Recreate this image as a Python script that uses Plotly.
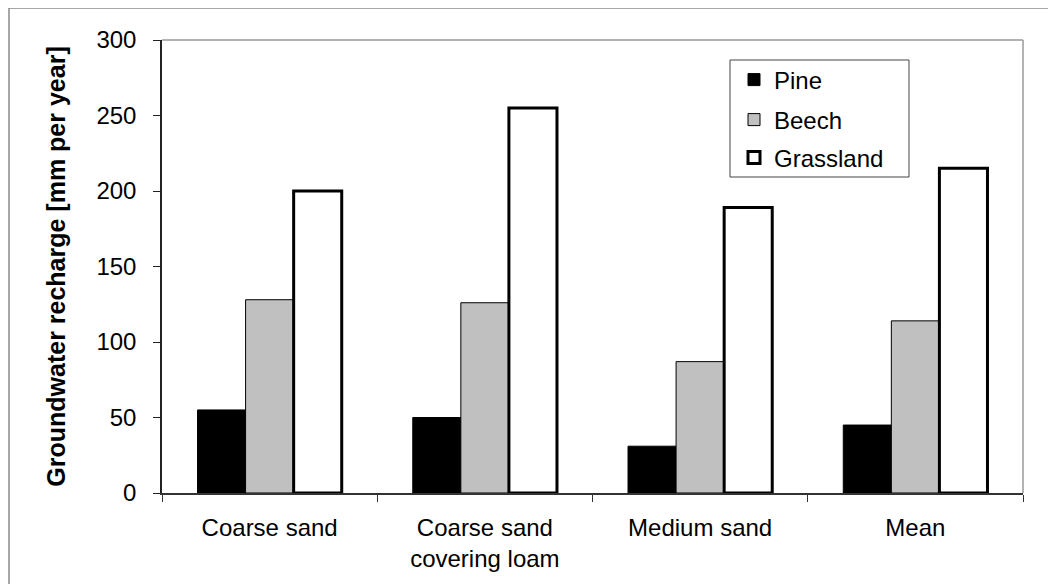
import plotly.graph_objects as go

categories = ["Coarse sand", "Coarse sand<br>covering loam", "Medium sand", "Mean"]
pine = [55, 50, 31, 45]
beech = [128, 126, 87, 114]
grassland = [200, 255, 189, 215]
y_ticks = [0, 50, 100, 150, 200, 250, 300]

FONT = "Arial, 'Liberation Sans', sans-serif"

OFF = 8  # page body margin
W, H = 1056 - OFF, 584 - OFF
L, R, T, B = 162 - OFF, 33, 40 - OFF, 91
pw, ph = W - L - R, H - T - B

def px(x):
    return (x - OFF - L) / pw

def py(y):
    return (H - B - (y - OFF)) / ph

fig = go.Figure()
fig.add_trace(go.Bar(name="Pine", x=categories, y=pine, legend="legend",
                     marker=dict(color="#000000", line=dict(color="#000000", width=1))))
fig.add_trace(go.Bar(name="Beech", x=categories, y=beech, legend="legend2",
                     marker=dict(color="#c0c0c0", line=dict(color="#000000", width=1))))
fig.add_trace(go.Bar(name="Grassland", x=categories, y=grassland, legend="legend3",
                     marker=dict(color="#ffffff", line=dict(color="#000000", width=3))))

shapes = [
    # outer chart border (top and left visible)
    dict(type="rect", xref="paper", yref="paper", x0=px(9), x1=px(1070), y0=py(600), y1=py(8),
         line=dict(color="#8a8a8a", width=1.5), fillcolor="rgba(0,0,0,0)", layer="below"),
    # plot area top and right
    dict(type="line", xref="paper", yref="paper", x0=0, x1=1, y0=1, y1=1,
         line=dict(color="#999999", width=1.5)),
    dict(type="line", xref="paper", yref="paper", x0=1, x1=1, y0=0, y1=1,
         line=dict(color="#999999", width=1.5)),
    # legend box
    dict(type="rect", xref="paper", yref="paper", x0=px(730), x1=px(909), y0=py(177), y1=py(60),
         line=dict(color="#444444", width=1), fillcolor="white", layer="below"),
]

def leg(yc):
    return dict(x=px(734), y=py(yc), xanchor="left", yanchor="middle",
                bgcolor="rgba(0,0,0,0)", borderwidth=0,
                font=dict(family=FONT, size=24, color="#000000"))

fig.update_layout(
    width=W, height=H,
    margin=dict(l=L, r=R, t=T, b=B, pad=0),
    paper_bgcolor="white", plot_bgcolor="white",
    font=dict(family=FONT, size=24, color="#000000"),
    barmode="group", bargap=0.33, bargroupgap=0,
    showlegend=True,
    legend=leg(80), legend2=leg(120), legend3=leg(158),
    shapes=shapes,
    xaxis=dict(showline=True, linecolor="#333333", linewidth=1.5, ticks="outside",
               ticklen=7, tickcolor="#333333", tickson="boundaries", showgrid=False,
               ticklabelstandoff=12, tickfont=dict(size=24, family=FONT)),
    yaxis=dict(range=[0, 300], tickvals=y_ticks, showline=True, linecolor="#222222",
               linewidth=1.5, ticks="outside", ticklen=7, tickcolor="#222222",
               showgrid=False, zeroline=False, ticklabelstandoff=12,
               tickfont=dict(size=24, family=FONT),
               title=dict(text="<b>Groundwater recharge [mm per year]</b>",
                          font=dict(size=25, family=FONT), standoff=24)),
)

fig.write_html("out.html")
